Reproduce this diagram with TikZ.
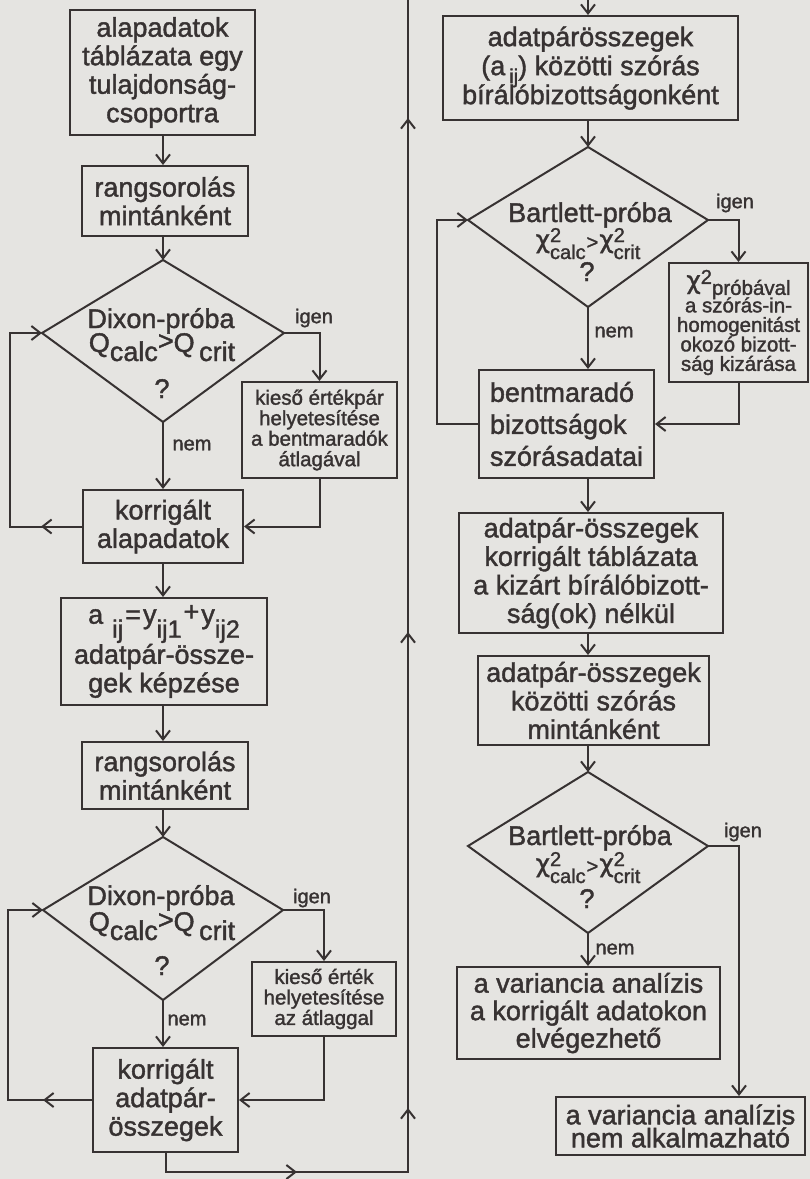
\documentclass[tikz,border=0pt]{standalone}
\usepackage{fontspec}
\setmainfont{Liberation Sans}[FakeBold=1.5]
\newfontfamily\chifont{DejaVu Sans}[FakeBold=1]
\usetikzlibrary{arrows.meta}
\definecolor{ink}{RGB}{55,50,50}
\definecolor{paper}{RGB}{229,228,225}
\newcommand\mainfs{\fontsize{27}{28.5}\selectfont}
\newcommand\smallfs{\fontsize{20.5}{20.5}\selectfont}
\newcommand\subfs{\fontsize{20}{20}\selectfont}
\newcommand\tightR{\fontsize{27}{29}\selectfont\lineskiplimit=-50pt\relax}
\newcommand\tightCH{\fontsize{20.5}{19.5}\selectfont\lineskiplimit=-50pt\relax}
\newcommand\tightV{\fontsize{27}{23}\selectfont\lineskiplimit=-50pt\relax}
\newcommand\wideBM{\fontsize{27}{32}\selectfont}
\newcommand\midV{\fontsize{27}{27.5}\selectfont}
\newcommand\lowsub[2][-14pt]{\raisebox{#1}{\subfs #2}}
\newcommand\bigsub[1]{\raisebox{-14pt}{\fontsize{25}{25}\selectfont #1}}
\newcommand\qdown[1]{\raisebox{-9pt}{#1}}
\newcommand\chisym[1]{{\chifont\fontsize{25}{25}\selectfont χ}\rlap{\raisebox{6pt}{\subfs 2}}\raisebox{-11pt}{\subfs #1}}
\begin{document}
\begin{tikzpicture}[x=1pt,y=-1pt,color=ink,line width=2pt,line join=miter,
  box/.style={draw=ink,line width=2pt,align=center,inner sep=0pt,font=\mainfs,text=ink},
  sbox/.style={box,font=\smallfs},
  txt/.style={font=\mainfs,text=ink,inner sep=0pt},
  lbl/.style={font=\subfs,text=ink,inner sep=0pt},
  arr/.style={-{Straight Barb[length=9pt,width=14pt]}},
  wire/.style={draw=ink,line width=2pt}]
\fill[paper] (0,0) rectangle (810,1179);
\useasboundingbox (0,0) rectangle (810,1179);

% ---------- left column ----------
\node[box,minimum width=185pt,minimum height=125pt] (L1) at (162.5,72.5) {alapadatok\\táblázata egy\\tulajdonság-\\csoportra};
\node[box,minimum width=166pt,minimum height=70pt] (L2) at (165,201) {rangsorolás\\mintánként};
\coordinate (d1t) at (163,260); \coordinate (d1l) at (42,333);
\coordinate (d1b) at (163,422); \coordinate (d1r) at (284,333);
\draw[wire] (d1t) -- (d1r) -- (d1b) -- (d1l) -- cycle;
\node[txt,anchor=base] (d1a) at (161,328) {Dixon-próba};
\node[txt,anchor=base] (d1q) at (162,352) {Q\qdown{calc}\raisebox{2pt}{>}Q\,\qdown{crit}};
\node[txt,anchor=base] (d1x) at (162,398) {?};
\node[sbox,minimum width=155pt,minimum height=96pt] (K1) at (319.5,430) {kieső értékpár\\helyetesítése\\a bentmaradók\\átlagával};
\node[box,minimum width=160pt,minimum height=73pt] (C1) at (163,526.5) {korrigált\\alapadatok};
\node[box,minimum width=206pt,minimum height=107pt] (A) at (164,651.5) {a\hspace{9pt}\bigsub{ij}\hspace{2pt}=\hspace{2pt}y\bigsub{ij1}\hspace{2pt}\raisebox{3pt}{+}\hspace{2pt}y\bigsub{ij2}\\adatpár-össze-\\gek képzése};
\node[box,minimum width=166pt,minimum height=67pt] (L3) at (165,775.5) {rangsorolás\\mintánként};
\coordinate (d2t) at (163,837); \coordinate (d2l) at (43,910);
\coordinate (d2b) at (163,1000); \coordinate (d2r) at (283,910);
\draw[wire] (d2t) -- (d2r) -- (d2b) -- (d2l) -- cycle;
\node[txt,anchor=base] (d2a) at (161,905) {Dixon-próba};
\node[txt,anchor=base] (d2q) at (162,931) {Q\qdown{calc}\raisebox{2pt}{>}Q\,\qdown{crit}};
\node[txt,anchor=base] (d2x) at (162,975) {?};
\node[sbox,minimum width=144pt,minimum height=74pt] (K2) at (324,999) {kieső érték\\helyetesítése\\az átlaggal};
\node[box,minimum width=145pt,minimum height=104pt] (C2) at (165.5,1100) {korrigált\\adatpár-\\összegek};

\node[lbl] (ig1) at (314,318) {igen};
\node[lbl] (ne1) at (192,445) {nem};
\node[lbl] (ig2) at (312,898) {igen};
\node[lbl] (ne2) at (187,1020) {nem};

\draw[arr] (L1.south -| d1t) -- (L2.north -| d1t);
\draw[arr] (L2.south -| d1t) -- (d1t);
\draw[arr] (d1r) -| (K1.north);
\draw[arr] (d1b) -- (d1b |- C1.north);
\draw[arr] (K1.south) |- (C1.east);
\coordinate (lx1) at (10,0); \coordinate (ax1) at (41,0);
\draw[arr] (C1.west) -| (lx1 |- d1l) -- (d1l);
\draw[arr] (C1.west) -- (C1.west -| ax1);
\draw[arr] (C1.south -| d1t) -- (A.north -| d1t);
\draw[arr] (A.south -| d1t) -- (L3.north -| d1t);
\draw[arr] (L3.south -| d2t) -- (d2t);
\draw[arr] (d2r) -| (K2.north);
\draw[arr] (d2b) -- (d2b |- C2.north);
\draw[arr] (K2.south) |- (C2.east);
\coordinate (lx2) at (8,0); \coordinate (ax2) at (43,0);
\draw[arr] (C2.west) -| (lx2 |- d2l) -- (d2l);
\draw[arr] (C2.west) -- (C2.west -| ax2);
% long return line
\coordinate (bl) at (165.5,1172); \coordinate (br) at (408,1172);
\coordinate (tl) at (408,0); \coordinate (m1) at (297,1172);
\coordinate (u1) at (408,1108); \coordinate (u2) at (408,632); \coordinate (u3) at (408,118);
\draw (C2.south) -- (bl) -- (br) -- (tl);
\draw[arr] (bl) -- (m1);
\draw[arr] (br) -- (u1);
\draw[arr] (br) -- (u2);
\draw[arr] (br) -- (u3);

% ---------- right column ----------
\coordinate (tr) at (588,0);
\node[box,minimum width=295pt,minimum height=104pt,font=\tightR] (R1) at (590.5,68) {adatpárösszegek\\(a\hspace{4pt}\lowsub[-8pt]{ij}) közötti szórás\\bírálóbizottságonként};
\coordinate (b1t) at (588,147); \coordinate (b1l) at (468,220);
\coordinate (b1b) at (588,307); \coordinate (b1r) at (708,220);
\draw[wire] (b1t) -- (b1r) -- (b1b) -- (b1l) -- cycle;
\node[txt,anchor=base] (b1a) at (590,222) {Bartlett-próba};
\node[txt,anchor=base] (b1q) at (588,248) {\chisym{calc}\hspace{1pt}\raisebox{-1pt}{\subfs >}\hspace{1pt}\chisym{crit}};
\node[txt,anchor=base] (b1x) at (587,281) {?};
\node[sbox,minimum width=139pt,minimum height=119pt,font=\tightCH] (CH) at (738.5,322.5) {{\chifont\fontsize{25}{25}\selectfont χ}\raisebox{5pt}{\subfs 2}\raisebox{-6pt}{próbával}\\[4pt]a szórás-in-\\homogenitást\\okozó bizott-\\ság kizárása};
\node[box,align=left,minimum width=175pt,minimum height=108pt,font=\wideBM] (BM) at (566.5,424) {bentmaradó\\bizottságok\\szórásadatai};
\node[box,minimum width=264pt,minimum height=120pt] (TB) at (591,573) {adatpár-összegek\\korrigált táblázata\\a kizárt bírálóbizott-\\ság(ok) nélkül};
\node[box,minimum width=231pt,minimum height=89pt] (KZ) at (593.5,700.5) {adatpár-összegek\\közötti szórás\\mintánként};
\coordinate (b2t) at (588,772); \coordinate (b2l) at (468,846);
\coordinate (b2b) at (588,933); \coordinate (b2r) at (708,846);
\draw[wire] (b2t) -- (b2r) -- (b2b) -- (b2l) -- cycle;
\node[txt,anchor=base] (b2a) at (590,845) {Bartlett-próba};
\node[txt,anchor=base] (b2q) at (588,872) {\chisym{calc}\hspace{1pt}\raisebox{-1pt}{\subfs >}\hspace{1pt}\chisym{crit}};
\node[txt,anchor=base] (b2x) at (587,908) {?};
\node[box,minimum width=263pt,minimum height=92pt,font=\midV] (V1) at (588.5,1013) {a variancia analízis\\a korrigált adatokon\\elvégezhető};
\node[box,minimum width=249pt,minimum height=58pt,font=\tightV] (V2) at (680.5,1126) {a variancia analízis\\nem alkalmazható};

\node[lbl] (ig3) at (735,203) {igen};
\node[lbl] (ne3) at (614,332) {nem};
\node[lbl] (ig4) at (743,832) {igen};
\node[lbl] (ne4) at (615,949) {nem};

\draw[arr] (tr) -- (tr |- R1.north);
\draw[arr] (R1.south -| b1t) -- (b1t);
\draw[arr] (b1r) -| (CH.north);
\draw[arr] (b1b) -- (b1b |- BM.north);
\draw[arr] (CH.south) |- (BM.east);
\coordinate (lx3) at (437,0);
\draw[arr] (BM.west) -| (lx3 |- b1l) -- (b1l);
\draw[arr] (BM.south -| b1b) -- (TB.north -| b1b);
\draw[arr] (TB.south -| b1b) -- (KZ.north -| b1b);
\draw[arr] (KZ.south -| b2t) -- (b2t);
\coordinate (ix) at (739,846);
\draw[arr] (b2r) -- (ix) -- (ix |- V2.north);
\draw[arr] (b2b) -- (b2b |- V1.north);
\end{tikzpicture}
\end{document}
